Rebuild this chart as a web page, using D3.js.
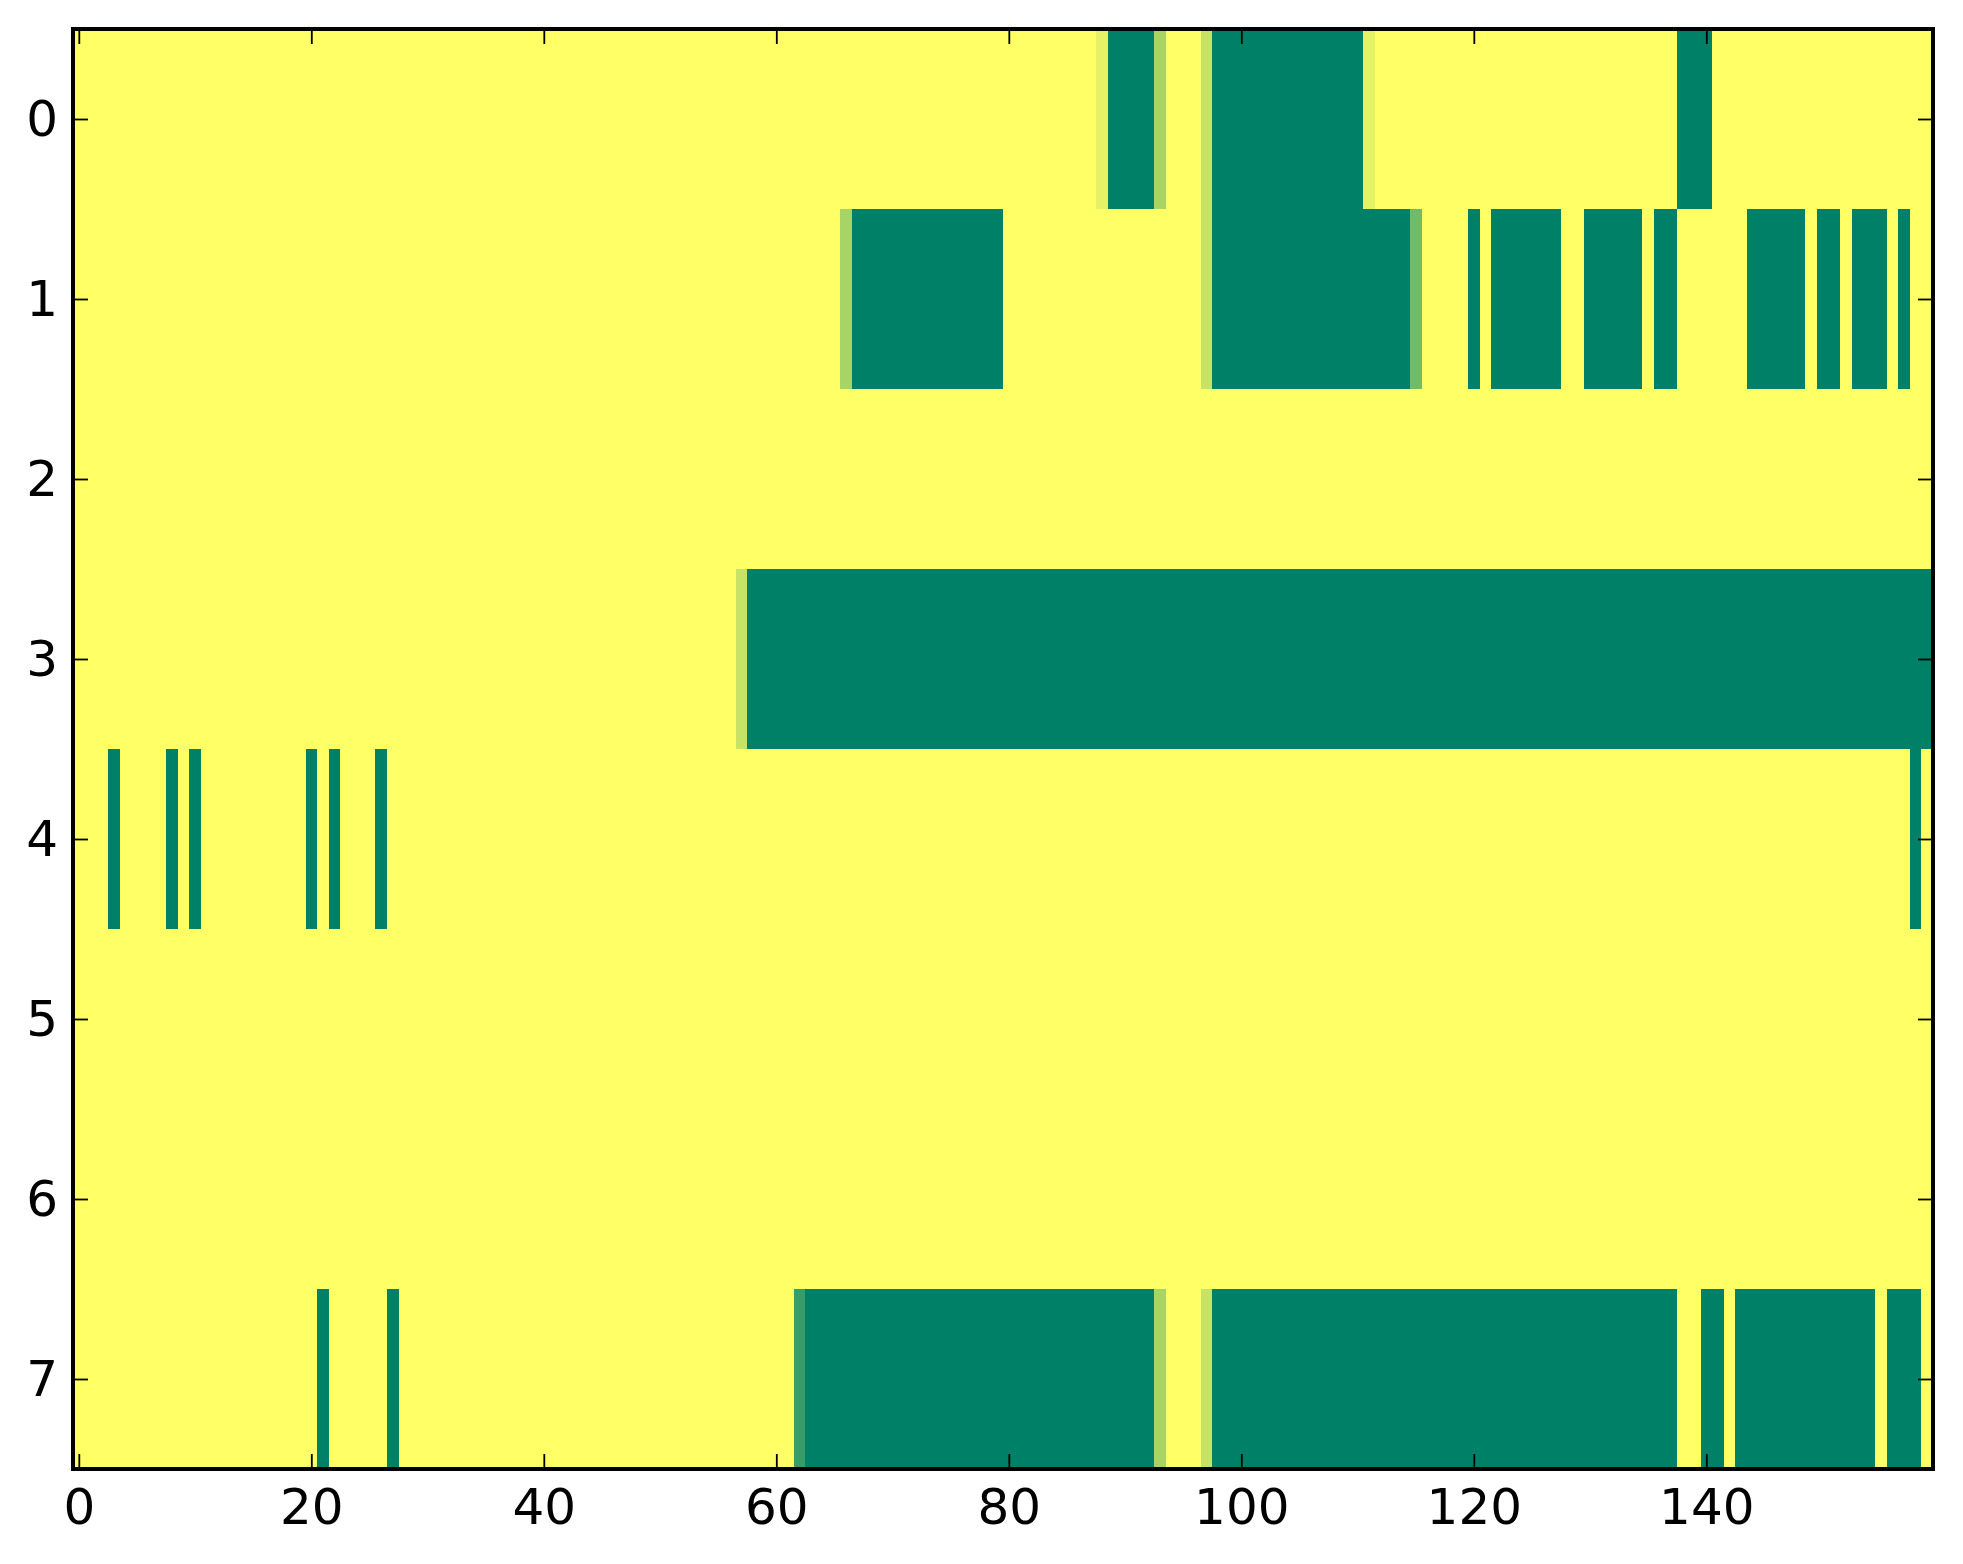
<!DOCTYPE html>
<html>
<head>
<meta charset="utf-8">
<script src="https://d3js.org/d3.v7.min.js"></script>
<style>
  body { margin: 0; background: #fff; }
  text { font-family: "DejaVu Sans", sans-serif; }
</style>
</head>
<body>
<div class="heatmap"></div>
<script>
// cell values, one array per row (0 = green, 1 = yellow)
var row0 = [
  1,1,1,1,1,1,1,1,1,1,1,1,1,1,1,1,1,1,1,1,
  1,1,1,1,1,1,1,1,1,1,1,1,1,1,1,1,1,1,1,1,
  1,1,1,1,1,1,1,1,1,1,1,1,1,1,1,1,1,1,1,1,
  1,1,1,1,1,1,1,1,1,1,1,1,1,1,1,1,1,1,1,1,
  1,1,1,1,1,1,1,1,0.9,0,0,0,0,0.66,1,1,1,0.78,0,0,
  0,0,0,0,0,0,0,0,0,0,0,0.9,1,1,1,1,1,1,1,1,
  1,1,1,1,1,1,1,1,1,1,1,1,1,1,1,1,1,1,0,0,
  0,1,1,1,1,1,1,1,1,1,1,1,1,1,1,1,1,1,1,1
];
var row1 = [
  1,1,1,1,1,1,1,1,1,1,1,1,1,1,1,1,1,1,1,1,
  1,1,1,1,1,1,1,1,1,1,1,1,1,1,1,1,1,1,1,1,
  1,1,1,1,1,1,1,1,1,1,1,1,1,1,1,1,1,1,1,1,
  1,1,1,1,1,1,0.66,0,0,0,0,0,0,0,0,0,0,0,0,0,
  1,1,1,1,1,1,1,1,1,1,1,1,1,1,1,1,1,0.78,0,0,
  0,0,0,0,0,0,0,0,0,0,0,0,0,0,0,0.45,1,1,1,1,
  0,1,0,0,0,0,0,0,1,1,0,0,0,0,0,1,0,0,1,1,
  1,1,1,1,0,0,0,0,0,1,0,0,1,0,0,0,1,0,1,1
];
var row2 = [
  1,1,1,1,1,1,1,1,1,1,1,1,1,1,1,1,1,1,1,1,
  1,1,1,1,1,1,1,1,1,1,1,1,1,1,1,1,1,1,1,1,
  1,1,1,1,1,1,1,1,1,1,1,1,1,1,1,1,1,1,1,1,
  1,1,1,1,1,1,1,1,1,1,1,1,1,1,1,1,1,1,1,1,
  1,1,1,1,1,1,1,1,1,1,1,1,1,1,1,1,1,1,1,1,
  1,1,1,1,1,1,1,1,1,1,1,1,1,1,1,1,1,1,1,1,
  1,1,1,1,1,1,1,1,1,1,1,1,1,1,1,1,1,1,1,1,
  1,1,1,1,1,1,1,1,1,1,1,1,1,1,1,1,1,1,1,1
];
var row3 = [
  1,1,1,1,1,1,1,1,1,1,1,1,1,1,1,1,1,1,1,1,
  1,1,1,1,1,1,1,1,1,1,1,1,1,1,1,1,1,1,1,1,
  1,1,1,1,1,1,1,1,1,1,1,1,1,1,1,1,1,0.78,0,0,
  0,0,0,0,0,0,0,0,0,0,0,0,0,0,0,0,0,0,0,0,
  0,0,0,0,0,0,0,0,0,0,0,0,0,0,0,0,0,0,0,0,
  0,0,0,0,0,0,0,0,0,0,0,0,0,0,0,0,0,0,0,0,
  0,0,0,0,0,0,0,0,0,0,0,0,0,0,0,0,0,0,0,0,
  0,0,0,0,0,0,0,0,0,0,0,0,0,0,0,0,0,0,0,0
];
var row4 = [
  1,1,1,0,1,1,1,1,0,1,0,1,1,1,1,1,1,1,1,1,
  0,1,0,1,1,1,0,1,1,1,1,1,1,1,1,1,1,1,1,1,
  1,1,1,1,1,1,1,1,1,1,1,1,1,1,1,1,1,1,1,1,
  1,1,1,1,1,1,1,1,1,1,1,1,1,1,1,1,1,1,1,1,
  1,1,1,1,1,1,1,1,1,1,1,1,1,1,1,1,1,1,1,1,
  1,1,1,1,1,1,1,1,1,1,1,1,1,1,1,1,1,1,1,1,
  1,1,1,1,1,1,1,1,1,1,1,1,1,1,1,1,1,1,1,1,
  1,1,1,1,1,1,1,1,1,1,1,1,1,1,1,1,1,1,0,1
];
var row5 = row2.slice();
var row6 = row2.slice();
var row7 = [
  1,1,1,1,1,1,1,1,1,1,1,1,1,1,1,1,1,1,1,1,
  1,0,1,1,1,1,1,0,1,1,1,1,1,1,1,1,1,1,1,1,
  1,1,1,1,1,1,1,1,1,1,1,1,1,1,1,1,1,1,1,1,
  1,1,0.22,0,0,0,0,0,0,0,0,0,0,0,0,0,0,0,0,0,
  0,0,0,0,0,0,0,0,0,0,0,0,0,0.66,1,1,1,0.78,0,0,
  0,0,0,0,0,0,0,0,0,0,0,0,0,0,0,0,0,0,0,0,
  0,0,0,0,0,0,0,0,0,0,0,0,0,0,0,0,0,0,1,1,
  0,0,1,0,0,0,0,0,0,0,0,0,0,0,0,1,0,0,0,1
];

var rows = [row0, row1, row2, row3, row4, row5, row6, row7];
var xTicks = [0, 20, 40, 60, 80, 100, 120, 140];
var yTicks = [0, 1, 2, 3, 4, 5, 6, 7];

var svgWidth = 1963;
var svgHeight = 1564;

var margin = {
  top: 29,
  right: 30,
  bottom: 95,
  left: 73
};

var width = svgWidth - margin.left - margin.right;
var height = svgHeight - margin.top - margin.bottom;

var svg = d3
  .select(".heatmap")
  .append("svg")
  .attr("width", svgWidth)
  .attr("height", svgHeight);

var chartGroup = svg.append("g")
  .attr("transform", `translate(${margin.left}, ${margin.top})`);

var nCols = row0.length;

var xScale = d3.scaleLinear()
  .domain([-0.5, nCols - 0.5])
  .range([0, width]);

var yScale = d3.scaleLinear()
  .domain([-0.5, rows.length - 0.5])
  .range([0, height]);

// matplotlib "summer" colormap
var color = d3.scaleLinear()
  .domain([0, 1])
  .range(["rgb(0,128,102)", "rgb(255,255,102)"]);

// flatten into cells
var cells = [];
rows.forEach(function(r, i) {
  r.forEach(function(v, j) {
    cells.push({ row: i, col: j, value: v });
  });
});

chartGroup.selectAll("rect.cell")
  .data(cells)
  .enter()
  .append("rect")
  .attr("class", "cell")
  .attr("x", d => xScale(d.col - 0.5))
  .attr("y", d => yScale(d.row - 0.5))
  .attr("width", d => xScale(d.col + 0.5) - xScale(d.col - 0.5) + 0.6)
  .attr("height", d => yScale(d.row + 0.5) - yScale(d.row - 0.5) + 0.6)
  .attr("fill", d => color(d.value))
  .attr("shape-rendering", "crispEdges");

// axes, ticks pointing inward on all four sides
var tickLen = 15;

var bottomAxis = d3.axisBottom(xScale).tickValues(xTicks).tickSize(-tickLen).tickPadding(19);
var topAxis = d3.axisTop(xScale).tickValues(xTicks).tickSize(-tickLen).tickFormat("");
var leftAxis = d3.axisLeft(yScale).tickValues(yTicks).tickSize(-tickLen).tickPadding(15);
var rightAxis = d3.axisRight(yScale).tickValues(yTicks).tickSize(-tickLen).tickFormat("");

var xAxis = chartGroup.append("g")
  .attr("transform", `translate(0, ${height})`)
  .call(bottomAxis);

chartGroup.append("g").call(topAxis);

var yAxis = chartGroup.append("g")
  .call(leftAxis);

chartGroup.append("g")
  .attr("transform", `translate(${width}, 0)`)
  .call(rightAxis);

chartGroup.selectAll(".domain").remove();
chartGroup.selectAll(".tick line")
  .attr("stroke", "#000")
  .attr("stroke-width", 1.8);
chartGroup.selectAll(".tick text")
  .attr("fill", "#000")
  .attr("font-size", 50)
  .attr("font-family", "DejaVu Sans, sans-serif");

// frame
chartGroup.append("rect")
  .attr("x", 0)
  .attr("y", 0)
  .attr("width", width)
  .attr("height", height)
  .attr("fill", "none")
  .attr("stroke", "#000")
  .attr("stroke-width", 4);
</script>
</body>
</html>
